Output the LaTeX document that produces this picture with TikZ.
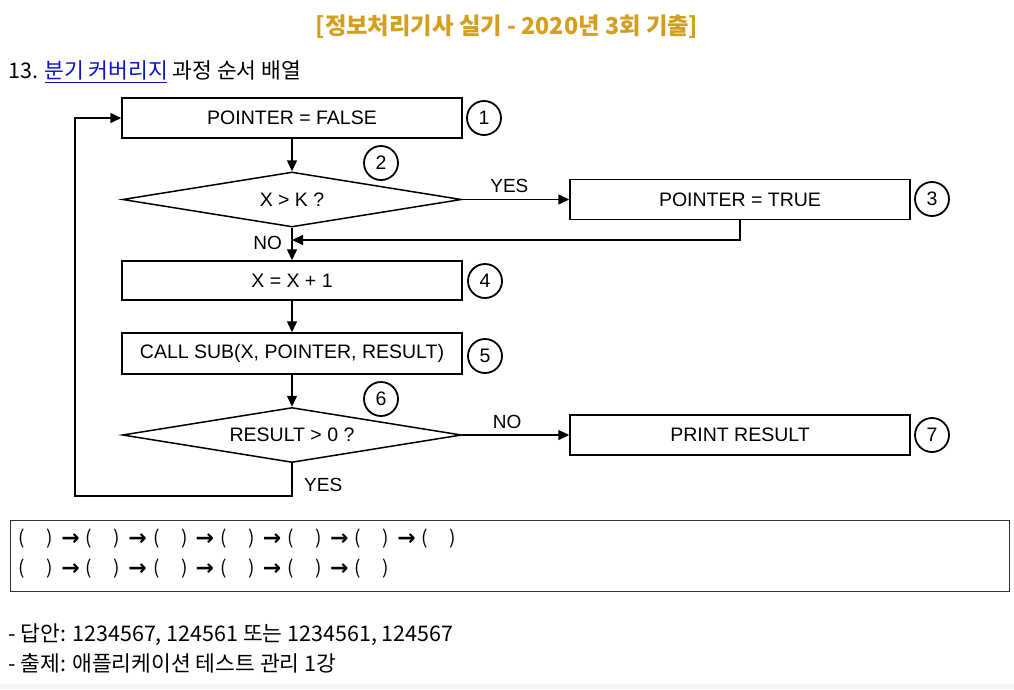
\documentclass[tikz,border=0pt]{standalone}
\usepackage{fontspec}
\setmainfont{Liberation Sans}
\newfontfamily\kr{Noto Sans CJK KR}
\newfontfamily\dv{DejaVu Sans}
\usetikzlibrary{shapes.geometric,arrows.meta}
\definecolor{titlegold}{RGB}{212,158,30}
\definecolor{linkblue}{RGB}{10,20,200}
\tikzset{
  proc/.style={draw, line width=1.5pt, minimum width=340pt, minimum height=40pt, inner sep=0pt, font=\fontsize{19.5}{22}\selectfont},
  dec/.style={draw, diamond, line width=1.5pt, aspect=6, inner sep=0pt, minimum width=339pt, minimum height=55pt, font=\fontsize{19.5}{22}\selectfont},
  num/.style={draw, circle, line width=1.8pt, minimum size=34pt, inner sep=0pt, font=\fontsize{19.5}{22}\selectfont},
  arr/.style={line width=1.5pt, -{Triangle[length=11pt,width=10pt]}},
  lbl/.style={font=\fontsize{19}{22}\selectfont, inner sep=1pt},
  krtext/.style={font=\kr\fontsize{21.5}{25}\selectfont, anchor=west, inner sep=0pt},
  paren/.style={font=\kr\fontsize{19}{22}\selectfont, inner sep=0pt},
  seqarrow/.style={font=\dv\bfseries\fontsize{22}{24}\selectfont, inner sep=0pt}
}
\begin{document}
\begin{tikzpicture}[x=1pt,y=-1pt]
\useasboundingbox (0,0) rectangle (1014,689);
\fill[white] (0,0) rectangle (1014,689);
\fill[gray!7] (0,684) rectangle (1014,689);
% title
\node[font=\kr\bfseries\fontsize{23.3}{27}\selectfont, text=titlegold] (title) at (507,27) {[정보처리기사 실기 - 2020년 3회 기출]};
% question
\node[krtext] (q) at (8,70) {13. \textcolor{linkblue}{분기 커버리지} 과정 순서 배열};
\draw[linkblue, line width=1pt] (45,82) -- (167,82);
% flowchart
\node[proc] (b1) at (292,118) {POINTER = FALSE};
\node[dec] (d2) at (292,199.5) {X > K ?};
\node[proc] (b3) at (740,199.5) {POINTER = TRUE};
\node[proc, minimum height=39pt] (b4) at (292,280.5) {X = X + 1};
\node[proc, minimum height=41pt] (b5) at (292,353.5) {CALL SUB(X, POINTER, RESULT)};
\node[dec] (d6) at (292,435) {RESULT > 0 ?};
\node[proc] (b7) at (740,435) {PRINT RESULT};
\node[num] (c1) at (484,118) {1};
\node[num] (c2) at (381,163) {2};
\node[num] (c3) at (932,199) {3};
\node[num] (c4) at (485,281) {4};
\node[num] (c5) at (485,356) {5};
\node[num] (c6) at (381,399) {6};
\node[num] (c7) at (932,435) {7};
\coordinate (m) at (292,240);
\coordinate (l1) at (75,496);
\draw[arr] (b1) -- (d2);
\draw[arr] (d2.east) -- node[lbl, pos=0.44, above=5pt]{YES} (b3.west);
\draw[arr] (b3.south) |- (m);
\node[lbl, anchor=east] (no1) at (283,243) {NO};
\draw[arr] (d2) -- (b4);
\draw[arr] (b4) -- (b5);
\draw[arr] (b5) -- (d6);
\draw[arr] (d6.east) -- node[lbl, pos=0.42, above=5pt]{NO} (b7.west);
\draw[arr] (d6.south) |- (l1) |- (b1.west);
\node[lbl, anchor=west] (yes2) at (303,485) {YES};
% answer box
\draw[line width=1pt, black!80] (10,520) rectangle (1009,591);
\foreach \i in {0,...,6} {
  \node[paren] (pa\i) at ({22+67.2*\i},539) {(};
  \node[paren] (pb\i) at ({50+67.2*\i},539) {)};
}
\foreach \i in {0,...,5} {
  \node[seqarrow] (ar\i) at ({70.5+67.2*\i},540) {→};
}
\foreach \i in {0,...,5} {
  \node[paren] (qa\i) at ({22+67.2*\i},569) {(};
  \node[paren] (qb\i) at ({50+67.2*\i},569) {)};
}
\foreach \i in {0,...,4} {
  \node[seqarrow] (br\i) at ({70.5+67.2*\i},570) {→};
}
% bottom notes
\node[krtext] (ans) at (8,635) {- 답안: 1234567, 124561 또는 1234561, 124567};
\node[krtext] (src) at (8,663) {- 출제: 애플리케이션 테스트 관리 1강};
\end{tikzpicture}
\end{document}
